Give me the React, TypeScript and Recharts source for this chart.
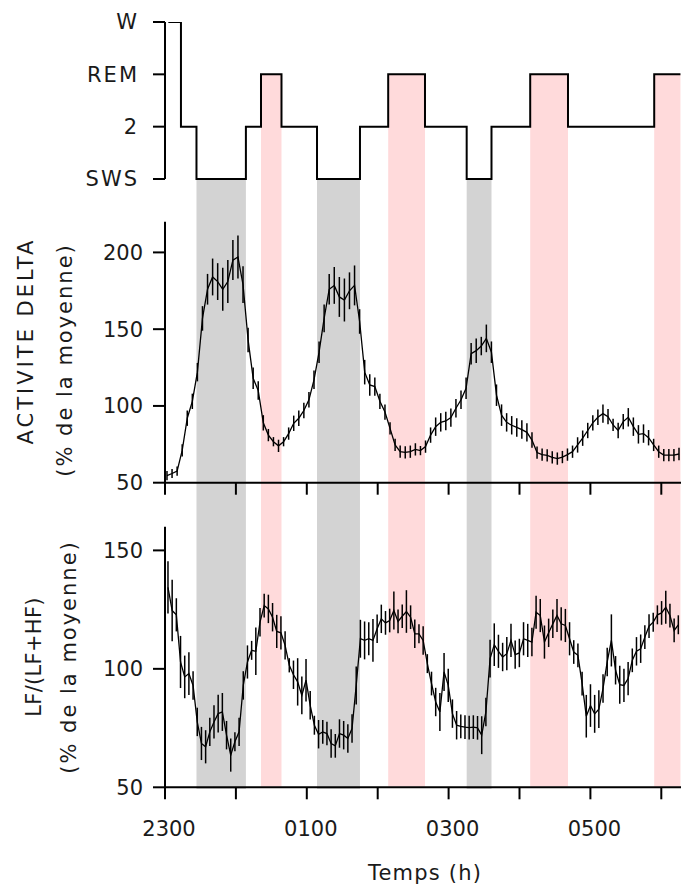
import React from 'react';
import { ComposedChart, Line, XAxis, YAxis, ErrorBar, ReferenceArea, ReferenceLine, Label } from 'recharts';

// ---------- data ----------
const hourLabels = ['2300', '0000', '0100', '0200', '0300', '0400', '0500', '0600'];
const hourTicks = [0, 1, 2, 3, 4, 5, 6, 7];
const stageLabels = ['SWS', '2', 'REM', 'W'];

// hypnogram transitions (hours after 23:00) and stage levels (0=SWS,1=2,2=REM,3=W)
const hypnoTimes = [0.047, 0.225, 0.444, 1.141, 1.354, 1.643, 2.144, 2.75, 3.148, 3.667, 4.255, 4.605, 5.151, 5.684, 6.9, 7.27];
const hypnoStages = [3, 1, 0, 1, 2, 1, 0, 1, 2, 1, 0, 1, 2, 1, 2, 2];

const swsPeriods = [[0.444, 1.141], [2.144, 2.75], [4.255, 4.605]];
const remPeriods = [[1.354, 1.643], [3.148, 3.667], [5.151, 5.684], [6.9, 7.27]];

// ACTIVITE DELTA (% de la moyenne)
const deltaValues = [
  54.6, 56, 57.6, 71, 92, 103, 122, 157, 176, 184,
  181, 176, 181, 195, 197, 179, 143, 118, 110, 89,
  81, 76.7, 74, 76.7, 82, 88.7, 92, 97, 104, 117,
  135, 157, 176, 178.5, 171, 169, 175, 178.5, 155, 122,
  113.7, 112.6, 103, 96, 85.4, 74.6, 70.2, 69.8, 70.2, 71.7,
  70.9, 73.5, 81, 86.5, 89.3, 90.2, 92.4, 98.5, 104, 111.5,
  134, 136, 139, 144, 135, 107, 94, 89.3, 87.4, 86,
  84.6, 82.8, 77.8, 69.6, 68.3, 67.8, 66.5, 65.7, 66.7, 68.3,
  70.2, 74.6, 79, 84, 89, 92.6, 95, 93, 87.6, 84,
  89.8, 92.6, 86.5, 81.5, 82, 79.3, 74.6, 70.2, 68, 68,
  68, 68.7,
];
const deltaErrors = [
  3, 3, 3, 4, 5, 5, 6, 8, 10, 12,
  12, 14, 14, 13, 14, 12, 8, 7, 6, 5,
  4, 3, 4, 3, 4, 5, 5, 5, 5, 6,
  7, 9, 10, 12, 13, 14, 12, 13, 8, 8,
  7, 6, 5, 5, 4, 4, 4, 4, 4, 4,
  3, 4, 5, 6, 6, 6, 6, 6, 6, 7,
  7, 8, 6, 9, 7, 7, 7, 6, 6, 6,
  6, 6, 5, 4, 4, 4, 4, 4, 4, 4,
  4, 5, 5, 5, 5, 5, 6, 5, 4, 5,
  5, 6, 6, 6, 6, 5, 4, 4, 4, 4,
  4, 4,
];

// LF/(LF+HF) (% de la moyenne)
const lfValues = [
  134.4, 124.6, 122.8, 102.9, 96.6, 98, 93, 77.6, 68.5, 67.1,
  73.4, 77.6, 81.1, 81.8, 72, 63.6, 69.2, 73.4, 93, 102.9,
  107.8, 107.4, 119.7, 126.7, 125.3, 121.8, 115.8, 115.2, 109.9, 101.5,
  97.5, 94.5, 88.8, 95.2, 84.6, 76.2, 72.4, 73.4, 72.7, 68.5,
  67.5, 72.7, 72, 70.6, 74.8, 93, 112.7, 112, 112.7, 112,
  116.9, 121.1, 119.4, 120.4, 124.6, 120, 122.2, 124.2, 121.8, 114.8,
  114.8, 112, 102.2, 93.8, 86, 81.8, 98.7, 93, 81.1, 76.2,
  75.7, 75.4, 75.2, 75.4, 75.1, 72, 81.8, 104.3, 110.2, 107.4,
  105, 106.4, 112, 106, 106.7, 112.7, 112, 111.3, 123.9, 122.5,
  111.3, 115.2, 119, 122.5, 119, 118.3, 112.7, 107.1, 105.7, 93.8,
  80, 84.5, 81, 83, 91.7, 102.9, 112, 99.4, 93.3, 93,
  95.9, 103.6, 107.4, 108.5, 113.4, 118, 119.7, 122.8, 123.6, 126,
  122.5, 116.2, 118.6,
];
const lfErrors = [
  11, 13, 7, 11, 9, 9, 6, 6, 7, 7,
  6, 7, 8, 8, 6, 7, 4, 6, 6, 7,
  4, 10, 6, 5, 6, 6, 7, 7, 6, 3,
  6, 10, 8, 9, 6, 4, 6, 5, 5, 6,
  5, 6, 6, 6, 6, 8, 8, 8, 7, 9,
  6, 6, 5, 5, 8, 5, 5, 9, 5, 6,
  4, 6, 4, 5, 6, 8, 8, 7, 6, 6,
  5, 5, 5, 5, 5, 8, 6, 8, 9, 7,
  6, 7, 7, 6, 6, 7, 7, 6, 7, 7,
  7, 6, 6, 7, 7, 7, 7, 5, 5, 5,
  9, 9, 8, 8, 6, 6, 11, 6, 8, 7,
  7, 5, 6, 6, 5, 5, 4, 4, 5, 7,
  5, 5, 4,
];

// sampling (hours after 23:00)
const DELTA_T0 = 0.028;
const DELTA_STEP = 0.0715;
const LF_T0 = 0.042;
const LF_STEP = 0.059;

// ---------- layout ----------
const W = 681;
const H = 887;
const PLOT_LEFT = 165;
const PX_PER_HOUR = 70.9;
const X_MAX = (W - PLOT_LEFT) / PX_PER_HOUR;
const HYP_TOP = 22;
const HYP_SWS_Y = 179;
const SHADE_BOTTOM_Y = 789;
const LEVEL_PX = (HYP_SWS_Y - HYP_TOP) / 3;
const SHADE_BOTTOM = -(SHADE_BOTTOM_Y - HYP_SWS_Y) / LEVEL_PX;

const FONT = 'DejaVu Sans';
const TXT = '#1a1a1a';
const tickStyle = { fontSize: 21, fill: TXT, fontFamily: FONT };

const hypnoData = hypnoTimes.map((t, i) => ({ t, stage: hypnoStages[i] }));
const deltaData = deltaValues.map((v, i) => ({ t: DELTA_T0 + i * DELTA_STEP, v, e: deltaErrors[i] }));
const lfData = lfValues.map((v, i) => ({ t: LF_T0 + i * LF_STEP, v, e: lfErrors[i] }));

const axisStroke = { stroke: '#000', strokeWidth: 2 };

const RotTitle = ({ lines }: { lines: { text: string; x: number; y: number; ls: number }[] }) => (
  <g>
    {lines.map((l, k) => (
      <text
        key={k}
        x={l.x}
        y={l.y}
        transform={`rotate(-90 ${l.x} ${l.y})`}
        textAnchor="middle"
        fontSize={21}
        fontFamily={FONT}
        fill={TXT}
        style={{ letterSpacing: l.ls }}
      >
        {l.text}
      </text>
    ))}
  </g>
);

export default function App() {
  return (
    <div style={{ position: 'absolute', left: 0, top: 0, width: W, height: H, background: '#fff' }}>
      {/* hypnogram + shading across panels */}
      <div style={{ position: 'absolute', left: 0, top: 0 }}>
        <ComposedChart
          width={W}
          height={H}
          data={hypnoData}
          margin={{ top: HYP_TOP, right: 0, bottom: H - SHADE_BOTTOM_Y, left: PLOT_LEFT - 60 }}
        >
          <XAxis type="number" dataKey="t" domain={[0, X_MAX]} hide allowDataOverflow />
          <YAxis
            type="number"
            domain={[SHADE_BOTTOM, 3]}
            ticks={[0, 1, 2, 3]}
            interval={0}
            allowDataOverflow
            width={60}
            axisLine={false}
            tickLine={axisStroke}
            tickSize={12}
            tickMargin={14}
            tick={{ ...tickStyle, style: { letterSpacing: 2 } }}
            tickFormatter={(v: number) => stageLabels[v] ?? ''}
          />
          {swsPeriods.map((p, k) => (
            <ReferenceArea
              key={'s' + k}
              x1={p[0]}
              x2={p[1]}
              y1={SHADE_BOTTOM}
              y2={0}
              fill="#d3d3d3"
              fillOpacity={1}
              stroke="none"
              ifOverflow="visible"
            />
          ))}
          {remPeriods.map((p, k) => (
            <ReferenceArea
              key={'r' + k}
              x1={p[0]}
              x2={p[1]}
              y1={SHADE_BOTTOM + 0.05}
              y2={2}
              fill="#ffdadb"
              fillOpacity={1}
              stroke="none"
              ifOverflow="visible"
            />
          ))}
          <ReferenceLine
            segment={[{ x: 0, y: 0 }, { x: 0, y: 3 }]}
            stroke="#000"
            strokeWidth={2}
            ifOverflow="visible"
          />
          <Line
            type="stepAfter"
            dataKey="stage"
            stroke="#000"
            strokeWidth={2}
            dot={false}
            isAnimationActive={false}
          />
        </ComposedChart>
      </div>

      {/* delta activity */}
      <div style={{ position: 'absolute', left: 0, top: 200 }}>
        <ComposedChart
          width={W}
          height={300}
          data={deltaData}
          margin={{ top: 21.7, right: 0, bottom: 0.3, left: PLOT_LEFT - 60 }}
        >
          <XAxis
            type="number"
            dataKey="t"
            domain={[0, X_MAX]}
            ticks={hourTicks}
            interval={0}
            allowDataOverflow
            height={17}
            tickSize={12}
            axisLine={axisStroke}
            tickLine={axisStroke}
            tickFormatter={() => ''}
          />
          <YAxis
            type="number"
            domain={[50, 220]}
            ticks={[50, 100, 150, 200]}
            interval={0}
            allowDataOverflow
            width={60}
            tickSize={12}
            tickMargin={10}
            axisLine={axisStroke}
            tickLine={axisStroke}
            tick={tickStyle}
          >
            <Label
              content={() => (
                <RotTitle
                  lines={[
                    { text: 'ACTIVITE DELTA', x: 33, y: 141, ls: 3 },
                    { text: '(% de la moyenne)', x: 72, y: 160, ls: 2 },
                  ]}
                />
              )}
            />
          </YAxis>
          <Line
            type="linear"
            dataKey="v"
            stroke="#000"
            strokeWidth={1.3}
            dot={false}
            isAnimationActive={false}
          >
            <ErrorBar dataKey="e" width={0} stroke="#000" strokeWidth={1.5} isAnimationActive={false} />
          </Line>
        </ComposedChart>
      </div>

      {/* LF/(LF+HF) */}
      <div style={{ position: 'absolute', left: 0, top: 500 }}>
        <ComposedChart
          width={W}
          height={387}
          data={lfData}
          margin={{ top: 26.7, right: 0, bottom: 7, left: PLOT_LEFT - 60 }}
        >
          <XAxis
            type="number"
            dataKey="t"
            domain={[0, X_MAX]}
            ticks={hourTicks}
            interval={0}
            allowDataOverflow
            height={92.7}
            tickSize={12}
            tickMargin={22}
            axisLine={axisStroke}
            tickLine={axisStroke}
            tick={{ ...tickStyle, dx: 4 }}
            tickFormatter={(v: number) => (v % 2 === 0 ? hourLabels[v] : '')}
          >
            <Label
              value="Temps (h)"
              position="insideBottom"
              offset={0}
              dx={2}
              fontSize={21}
              fontFamily={FONT}
              fill={TXT}
              style={{ letterSpacing: 1.2 }}
            />
          </XAxis>
          <YAxis
            type="number"
            domain={[50, 160]}
            ticks={[50, 100, 150]}
            interval={0}
            allowDataOverflow
            width={60}
            tickSize={12}
            tickMargin={10}
            axisLine={axisStroke}
            tickLine={axisStroke}
            tick={tickStyle}
          >
            <Label
              content={() => (
                <RotTitle
                  lines={[
                    { text: 'LF/(LF+HF)', x: 41, y: 157, ls: 0.3 },
                    { text: '(% de la moyenne)', x: 76, y: 157, ls: 2 },
                  ]}
                />
              )}
            />
          </YAxis>
          <Line
            type="linear"
            dataKey="v"
            stroke="#000"
            strokeWidth={1.3}
            dot={false}
            isAnimationActive={false}
          >
            <ErrorBar dataKey="e" width={0} stroke="#000" strokeWidth={1.5} isAnimationActive={false} />
          </Line>
        </ComposedChart>
      </div>
    </div>
  );
}
